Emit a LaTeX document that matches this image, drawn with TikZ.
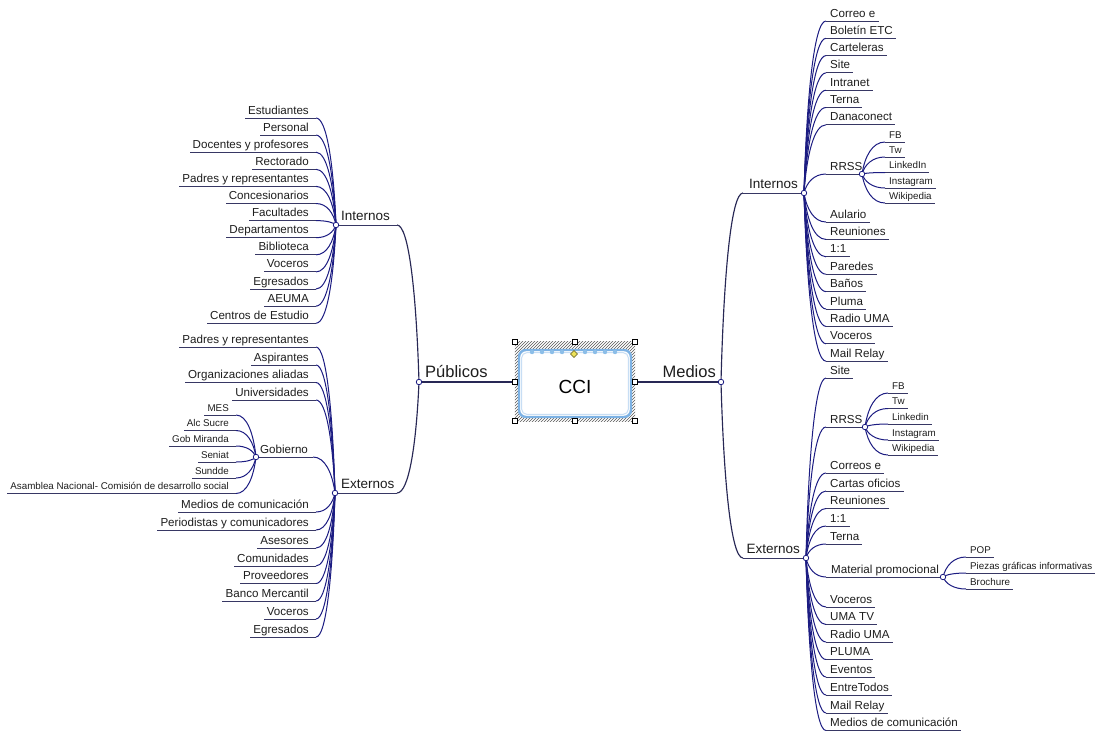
\documentclass[tikz,border=0pt]{standalone}
\usepackage{fontspec}
\setmainfont{Liberation Sans}
\usetikzlibrary{calc,patterns}

\definecolor{ln}{RGB}{28,28,130}
\definecolor{mainln}{RGB}{40,40,85}
\definecolor{ul}{RGB}{55,55,100}
\definecolor{tx}{RGB}{30,30,30}
\definecolor{boxblue}{RGB}{125,178,228}
\definecolor{boxlight}{RGB}{200,222,244}
\definecolor{scal}{RGB}{140,190,232}
\definecolor{diam}{RGB}{236,226,90}

\newcommand\fleaf{\fontsize{11.6}{13}\selectfont}
\newcommand\fsmall{\fontsize{9.8}{11}\selectfont}
\newcommand\fmid{\fontsize{13.5}{15}\selectfont}
\newcommand\fmain{\fontsize{16.5}{18}\selectfont}
\newcommand\fcci{\fontsize{19}{21}\selectfont}

\tikzset{
  link/.style={draw=ln, line width=1pt},
  mainlink/.style={draw=mainln, line width=1.15pt},
  uline/.style={draw=ul, line width=0.9pt},
  dotnode/.style={circle, draw=ln, fill=white, inner sep=0pt, minimum size=5.5pt, line width=0.8pt},
  handle/.style={draw=black, fill=white, line width=0.6pt, inner sep=0pt, minimum size=5.5pt},
}

% curve from parent #2 to child attach #3
\newcommand\mmlink[3][link]{%
  \draw[#1] let \p1=(#2), \p2=(#3) in
    (\p1) .. controls ({\x1+0.12*(\x2-\x1)},{\y1+0.55*(\y2-\y1)})
           and ({\x1+0.45*(\x2-\x1)},{\y2}) .. (\p2);}

% left leaf: name, font, x attach, y underline, text
\newcommand\Lleaf[5]{%
  \coordinate (#1-a) at (#3,#4);
  \node[anchor=base east, inner sep=0pt, text=tx, font=#2] (#1) at ({#3-7},{#4-4}) {#5};
  \path (#1.west) ++(-3pt,0) coordinate (#1-w);
  \draw[uline] (#1-a) -- (#1-w |- #1-a);}

% right leaf
\newcommand\Rleaf[5]{%
  \coordinate (#1-a) at (#3,#4);
  \node[anchor=base west, inner sep=0pt, text=tx, font=#2] (#1) at ({#3+4},{#4-4}) {#5};
  \path (#1.east) ++(3pt,0) coordinate (#1-e);
  \draw[uline] (#1-a) -- (#1-e |- #1-a);}

\begin{document}
\begin{tikzpicture}[x=1pt,y=-1pt]
\useasboundingbox (0,0) rectangle (1096,732);
\fill[white] (0,0) rectangle (1096,732);

% ---------- key points ----------
\coordinate (P) at (419,382);
\coordinate (M) at (721,382);
\coordinate (LI) at (336,225);
\coordinate (LE) at (335,493);
\coordinate (RI) at (804,193);
\coordinate (RE) at (806,558);
\coordinate (G) at (256,457);
\coordinate (RRi) at (862,174);
\coordinate (RRe) at (865,427);
\coordinate (MP) at (943,577);

% ---------- central box ----------
\node[minimum width=120pt, minimum height=79pt, inner sep=0pt] (box) at (575,381.5) {};
\fill[pattern=north east lines, pattern color=black!65] (box.south west) rectangle (box.north east);
\draw[fill=white, draw=boxblue, line width=2.4pt, rounded corners=7pt] (519,350) rectangle (631,417);
\draw[draw=boxlight, line width=1pt, rounded corners=5pt] (521.7,352.7) rectangle (628.3,414.3);
\foreach \x in {532,542,552,562,585,595,605,615} \fill[scal] (\x,352) circle (2.2pt);
\node[font=\fcci, text=black] (cci) at (575,387) {CCI};
\node[draw=black!60!diam, fill=diam, inner sep=0pt, minimum size=5pt, line width=0.5pt, rotate=45] (dia) at (574,354) {};
\foreach \n/\x/\y in {h1/515/342,h2/575/342,h3/635/342,h4/515/382,h5/635/382,h6/515/421,h7/575/421,h8/635/421}
  \node[handle] (\n) at (\x,\y) {};

% ---------- main branches ----------
\draw[draw=mainln, line width=1.9pt] (P) -- (h4.west);
\draw[draw=mainln, line width=1.9pt] (h5.east) -- (M);
\node[anchor=base west, inner sep=0pt, font=\fmain, text=tx] (pub) at (425,377) {Públicos};
\node[anchor=base east, inner sep=0pt, font=\fmain, text=tx] (med) at (716,377) {Medios};

% left Internos / Externos
\node[anchor=base west, inner sep=0pt, font=\fmid, text=tx] (LIt) at (341,220.5) {Internos};
\coordinate (LI-a) at (397,225);
\draw[uline, line width=1pt] (LI) -- (LI-a);
\mmlink[mainlink]{P}{LI-a}
\node[anchor=base west, inner sep=0pt, font=\fmid, text=tx] (LEt) at (341,488.5) {Externos};
\coordinate (LE-a) at (397,493);
\draw[uline, line width=1pt] (LE) -- (LE-a);
\mmlink[mainlink]{P}{LE-a}

% right Internos / Externos
\node[anchor=base east, inner sep=0pt, font=\fmid, text=tx] (RIt) at (798,188.5) {Internos};
\coordinate (RI-a) at (743,193);
\draw[uline, line width=1pt] (RI) -- (RI-a);
\mmlink[mainlink]{M}{RI-a}
\node[anchor=base east, inner sep=0pt, font=\fmid, text=tx] (REt) at (800,553.5) {Externos};
\coordinate (RE-a) at (743,558);
\draw[uline, line width=1pt] (RE) -- (RE-a);
\mmlink[mainlink]{M}{RE-a}

% ---------- left Internos leaves ----------
\foreach[count=\i] \y/\t in {118/Estudiantes, 135.1/Personal, 152.2/Docentes y profesores,
  169.3/Rectorado, 186.4/Padres y representantes, 203.5/Concesionarios, 220.6/Facultades,
  237.7/Departamentos, 254.8/Biblioteca, 271.9/Voceros, 289/Egresados, 306.1/AEUMA,
  323.2/Centros de Estudio}
{ \Lleaf{li\i}{\fleaf}{316}{\y}{\t} \mmlink{LI}{li\i-a} }

% ---------- left Externos leaves ----------
\foreach[count=\i] \y/\t in {347/Padres y representantes, 365/Aspirantes, 382.5/Organizaciones aliadas,
  400/Universidades, 512/Medios de comunicación, 530/Periodistas y comunicadores, 548/Asesores,
  566/Comunidades, 583.5/Proveedores, 601/Banco Mercantil, 619/Voceros, 637/Egresados}
{ \Lleaf{le\i}{\fleaf}{316}{\y}{\t} \mmlink{LE}{le\i-a} }

% Gobierno
\node[anchor=base west, inner sep=0pt, font=\fleaf, text=tx] (Gt) at (260,453) {Gobierno};
\coordinate (G-a) at (313,457);
\draw[uline] (G) -- (G-a);
\mmlink{LE}{G-a}
\foreach[count=\i] \y/\t in {415/MES, 430.5/Alc Sucre, 446/Gob Miranda, 462/Seniat, 478/Sundde,
  493.5/Asamblea Nacional- Comisión de desarrollo social}
{ \Lleaf{g\i}{\fsmall}{236}{\y}{\t} \mmlink{G}{g\i-a} }

% ---------- right Internos leaves ----------
\foreach[count=\i] \y/\t in {21/Correo e, 38.3/Boletín ETC, 55.6/Carteleras, 72.9/Site,
  90.2/Intranet, 107.5/Terna, 124.8/Danaconect, 222/Aulario, 239.4/Reuniones, 256.8/1:1,
  274.2/Paredes, 291.6/Baños, 309/Pluma, 326.4/Radio UMA, 343.8/Voceros, 361.2/Mail Relay}
{ \Rleaf{ri\i}{\fleaf}{826}{\y}{\t} \mmlink{RI}{ri\i-a} }

% RRSS internos
\node[anchor=base west, inner sep=0pt, font=\fleaf, text=tx] (RRit) at (830,170) {RRSS};
\coordinate (RRi-a) at (826,174);
\draw[uline] (RRi-a) -- (RRi);
\mmlink{RI}{RRi-a}
\foreach[count=\i] \y/\t in {142/FB, 157/Tw, 172.5/LinkedIn, 188/Instagram, 203/Wikipedia}
{ \Rleaf{rri\i}{\fsmall}{885}{\y}{\t} \mmlink{RRi}{rri\i-a} }

% ---------- right Externos leaves ----------
\foreach[count=\i] \y/\t in {378/Site, 473/Correos e, 491/Cartas oficios, 508.5/Reuniones,
  526/1:1, 544/Terna, 607/Voceros, 624.5/UMA TV, 642/Radio UMA, 659.5/PLUMA, 677/Eventos,
  695/EntreTodos, 713/Mail Relay, 730.5/Medios de comunicación}
{ \Rleaf{re\i}{\fleaf}{826}{\y}{\t} \mmlink{RE}{re\i-a} }

% RRSS externos
\node[anchor=base west, inner sep=0pt, font=\fleaf, text=tx] (RRet) at (830,423) {RRSS};
\coordinate (RRe-a) at (826,427);
\draw[uline] (RRe-a) -- (RRe);
\mmlink{RE}{RRe-a}
\foreach[count=\i] \y/\t in {393/FB, 408.5/Tw, 424/Linkedin, 440/Instagram, 455/Wikipedia}
{ \Rleaf{rre\i}{\fsmall}{888}{\y}{\t} \mmlink{RRe}{rre\i-a} }

% Material promocional
\node[anchor=base west, inner sep=0pt, font=\fleaf, text=tx] (MPt) at (831,573) {Material promocional};
\coordinate (MP-a) at (826,577);
\draw[uline] (MP-a) -- (MP);
\mmlink{RE}{MP-a}
\foreach[count=\i] \y/\t in {557/POP, 573/Piezas gráficas informativas, 589/Brochure}
{ \Rleaf{mp\i}{\fsmall}{966}{\y}{\t} \mmlink{MP}{mp\i-a} }

% ---------- connection dots ----------
\foreach \c in {P,M,LI,LE,RI,RE,G,RRi,RRe,MP}
  \node[dotnode] (\c-dot) at (\c) {};
\end{tikzpicture}
\end{document}
